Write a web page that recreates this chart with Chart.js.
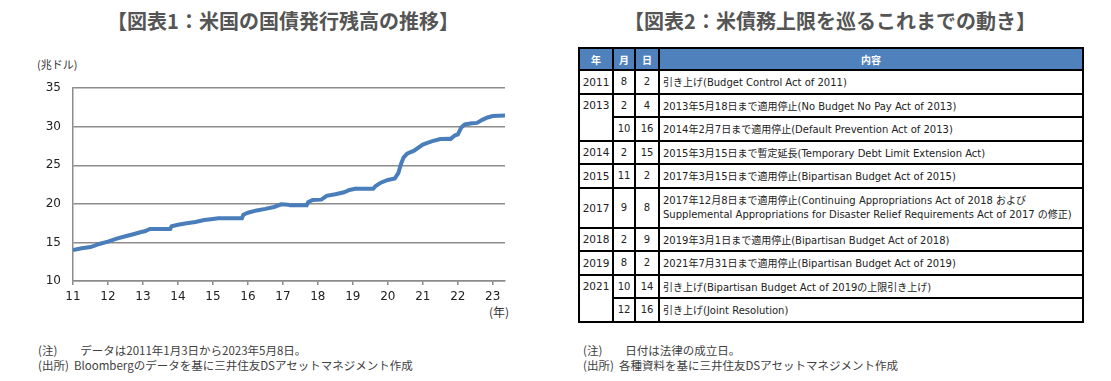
<!DOCTYPE html>
<html><head><meta charset="utf-8">
<script src="https://cdn.jsdelivr.net/npm/chart.js@4.4.1/dist/chart.umd.min.js"></script>
<style>
html,body{margin:0;padding:0;background:#fff;width:1111px;height:381px;overflow:hidden;font-family:"DejaVu Sans","Noto Sans CJK JP",sans-serif;}
.abs{position:absolute;white-space:nowrap;}
.title{font-family:"Noto Sans CJK JP",sans-serif;font-weight:bold;font-size:20px;color:#555;top:6px;transform:translateX(-50%);}
.note{font-family:"Noto Sans CJK JP",sans-serif;font-size:11.5px;color:#404040;line-height:15px;}
#tbl{position:absolute;left:578px;top:47px;width:506px;border-collapse:collapse;border:2px solid #000;font-size:10px;color:#222;table-layout:fixed;}
#tbl td,#tbl th{border:2px solid #000;padding:0 3px;height:21.5px;}
#tbl th{background:#4F81BD;color:#fff;font-weight:bold;font-size:10px;height:20px;padding:0;}
#tbl td.c{text-align:center;padding:0;}
#tbl td.y{text-align:center;padding:0;vertical-align:top;font-size:10.5px;}
#tbl td.y div{height:21.5px;line-height:21.5px;}
#tbl td.t{text-align:left;}
</style></head><body>
<div class="abs title" style="left:283px;">【図表1：米国の国債発行残高の推移】</div>
<div class="abs title" style="left:830px;">【図表2：米債務上限を巡るこれまでの動き】</div>
<div class="abs" style="left:37px;top:56px;font-family:'Noto Sans CJK JP';font-size:11px;color:#333;">(兆ドル)</div>
<div class="abs" style="left:489px;top:303px;font-family:'Noto Sans CJK JP';font-size:12px;color:#333;">(年)</div>
<canvas id="c" width="540" height="251" style="position:absolute;left:0;top:69px;"></canvas>
<div class="abs note" style="left:38px;top:343px;">(注)　　データは2011年1月3日から2023年5月8日。<br>(出所)&nbsp;&nbsp;Bloombergのデータを基に三井住友DSアセットマネジメント作成</div>
<table id="tbl"><colgroup><col style="width:34px"><col style="width:22px"><col style="width:24px"><col></colgroup></table>
<div class="abs note" style="left:583px;top:343px;">(注)　　日付は法律の成立日。<br>(出所)&nbsp;&nbsp;各種資料を基に三井住友DSアセットマネジメント作成</div>
<script>
// ---- chart data (year as decimal, value in 兆ドル) ----
const years = [2011.00,2011.25,2011.50,2011.60,2011.75,2012.00,2012.25,2012.50,2012.75,2012.95,2013.05,2013.20,2013.78,2013.82,2014.00,2014.25,2014.50,2014.75,2015.00,2015.15,2015.83,2015.87,2016.00,2016.25,2016.50,2016.75,2016.95,2017.15,2017.20,2017.68,2017.72,2017.85,2018.10,2018.25,2018.50,2018.75,2018.90,2019.10,2019.15,2019.58,2019.65,2019.80,2020.00,2020.20,2020.30,2020.38,2020.45,2020.55,2020.75,2021.00,2021.25,2021.50,2021.75,2021.80,2021.92,2022.00,2022.10,2022.20,2022.40,2022.55,2022.70,2022.85,2023.00,2023.35];
const debt  = [14.0,14.25,14.4,14.55,14.8,15.1,15.5,15.8,16.1,16.35,16.45,16.75,16.75,17.1,17.3,17.5,17.65,17.9,18.05,18.15,18.15,18.6,18.85,19.15,19.35,19.6,19.95,19.9,19.82,19.82,20.2,20.5,20.55,21.05,21.25,21.5,21.8,22.0,21.95,21.95,22.3,22.75,23.1,23.3,24.0,25.2,26.0,26.5,26.9,27.7,28.1,28.4,28.45,28.43,28.9,29.0,29.9,30.3,30.45,30.5,30.9,31.2,31.4,31.46];
const xTickValues = [2011,2012,2013,2014,2015,2016,2017,2018,2019,2020,2021,2022,2023];
const xTickLabels = ['11','12','13','14','15','16','17','18','19','20','21','22','23'];
const yTickValues = [10,15,20,25,30,35];

// ---- table data ----
const tblYears  = ['2011','2013','','2014','2015','2017','2018','2019','2021',''];
const tblMonths = ['8','2','10','2','11','9','2','8','10','12'];
const tblDays   = ['2','4','16','15','2','8','9','2','14','16'];
const tblText   = [
 '引き上げ(Budget Control Act of 2011)',
 '2013年5月18日まで適用停止(No Budget No Pay Act of 2013)',
 '2014年2月7日まで適用停止(Default Prevention Act of 2013)',
 '2015年3月15日まで暫定延長(Temporary Debt Limit Extension Act)',
 '2017年3月15日まで適用停止(Bipartisan Budget Act of 2015)',
 '2017年12月8日まで適用停止(Continuing Appropriations Act of 2018 および<br>Supplemental Appropriations for Disaster Relief Requirements Act of 2017 の修正)',
 '2019年3月1日まで適用停止(Bipartisan Budget Act of 2018)',
 '2021年7月31日まで適用停止(Bipartisan Budget Act of 2019)',
 '引き上げ(Bipartisan Budget Act of 2019の上限引き上げ)',
 '引き上げ(Joint Resolution)'
];

// build table
(function(){
  const t = document.getElementById('tbl');
  let h = '<tr><th>年</th><th>月</th><th>日</th><th>内容</th></tr>';
  for (let i=0;i<tblYears.length;i++){
    const tall = tblText[i].indexOf('<br>')>=0;
    h += '<tr>';
    if (tblYears[i] !== ''){
      let span=1; while(i+span<tblYears.length && tblYears[i+span]==='') span++;
      h += span>1 ? '<td class="y" rowspan="'+span+'"><div>'+tblYears[i]+'</div></td>'
                  : '<td class="c" style="font-size:10.5px">'+tblYears[i]+'</td>';
    }
    h += '<td class="c">'+tblMonths[i]+'</td><td class="c">'+tblDays[i]+'</td><td class="t" style="'+(tall?'height:38px;line-height:14px':'')+'">'+tblText[i]+'</td></tr>';
  }
  t.insertAdjacentHTML('beforeend', h);
})();

const pts = years.map((x,i)=>({x:x,y:debt[i]}));
const grey = '#8c8c8c';
new Chart(document.getElementById('c'), {
  type:'line',
  data:{datasets:[{data:pts,borderColor:'#4A7EBB',borderWidth:4,pointRadius:0,tension:0,fill:false}]},
  options:{
    responsive:false, animation:false, devicePixelRatio:1,
    layout:{padding:{top:7,right:35,left:0,bottom:0}},
    plugins:{legend:{display:false},tooltip:{enabled:false}},
    scales:{
      x:{type:'linear',min:2011,max:2023.35,
         afterBuildTicks:s=>{s.ticks=xTickValues.map(v=>({value:v}));},
         afterFit:s=>{s.height=39;},
         ticks:{callback:(v)=>xTickLabels[xTickValues.indexOf(v)],color:'#222',font:{family:'DejaVu Sans',size:12},padding:5,maxRotation:0,autoSkip:false},
         grid:{drawOnChartArea:false,drawTicks:true,tickLength:4,color:grey,lineWidth:1.5},
         border:{color:grey,width:1.5}},
      y:{min:10,max:35,
         afterBuildTicks:s=>{s.ticks=yTickValues.map(v=>({value:v}));},
         afterFit:s=>{s.width=73;},
         ticks:{color:'#222',font:{family:'DejaVu Sans',size:12},padding:12},
         grid:{color:grey,lineWidth:1.5,tickLength:0,drawTicks:false},
         border:{color:grey,width:1.5}}
    }
  }
});
</script>
</body></html>
